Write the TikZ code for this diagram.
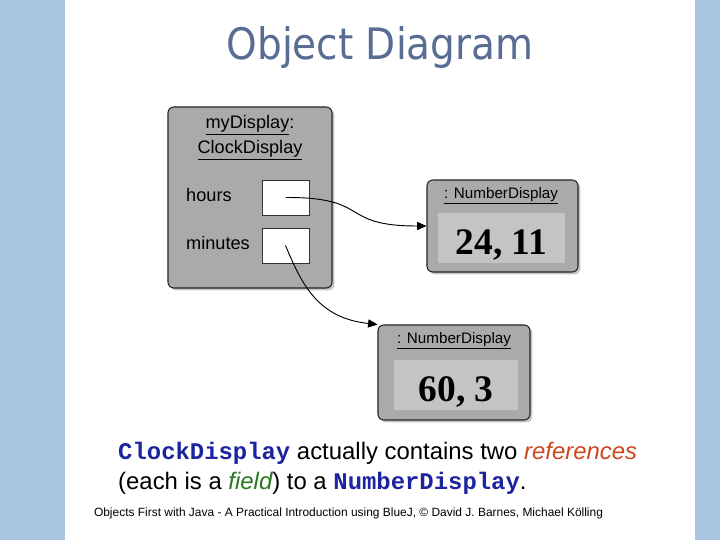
\documentclass[tikz,border=0pt]{standalone}
\usepackage{fontspec}
\setmainfont{Liberation Sans}
\setmonofont{Liberation Mono}
\newfontfamily\titlefont{DejaVu Sans Condensed}
\newfontfamily\valuefont{Liberation Serif}
\usetikzlibrary{shadows, arrows.meta}

\definecolor{bandblue}{RGB}{168,198,224}
\definecolor{titleblue}{RGB}{88,108,148}
\definecolor{objgray}{RGB}{170,170,170}
\definecolor{valgray}{RGB}{196,196,196}
\definecolor{codeblue}{RGB}{28,36,160}
\definecolor{refred}{RGB}{205,72,32}
\definecolor{fieldgreen}{RGB}{40,120,30}

\begin{document}
\begin{tikzpicture}[
    x=0.03cm, y=-0.03cm,
    object/.style={draw=black!85, line width=0.9pt, rounded corners=5pt, fill=objgray,
                   drop shadow={opacity=0.45, shadow xshift=2pt, shadow yshift=-2pt}},
    fieldbox/.style={draw=black!80, line width=0.6pt, fill=white,
                     minimum width=1.41cm, minimum height=1.05cm},
    valbox/.style={fill=valgray, minimum height=1.5cm, inner sep=0pt,
                   text height=28pt, text depth=0pt,
                   font=\valuefont\bfseries\fontsize{32}{36}\selectfont},
    lbl/.style={font=\fontsize{15.5}{18}\selectfont, inner sep=0pt},
    head/.style={font=\fontsize{13}{15}\selectfont, inner sep=0pt},
    ref/.style={-{Triangle[length=8pt, width=7pt]}, line width=0.8pt},
    body/.style={font=\fontsize{20.4}{28}\selectfont, inner sep=0pt, anchor=west},
  ]
    % slide background
    \fill[white] (0,0) rectangle (720,540);
    \fill[bandblue] (0,0) rectangle (65,540);
    \fill[bandblue] (695,0) rectangle (720,540);
    \useasboundingbox (0,0) rectangle (720,540);
    % title
    \node[text=titleblue, font=\titlefont\fontsize{37}{42}\selectfont] (title) at (380,48) {Object Diagram};
    % clock display object
    \node[object, minimum width=4.92cm, minimum height=5.43cm] (clock) at (250,197.5) {};
    \node[lbl] (clockname) at (250,125) {\underline{myDisplay}:};
    \node[lbl] (clockclass) at (250,150) {\underline{ClockDisplay}};
    \node[lbl, anchor=west] (hourslbl) at (186,195) {hours};
    \node[lbl, anchor=west] (minuteslbl) at (186,243) {minutes};
    \node[fieldbox] (hoursbox) at (285.5,197.5) {};
    \node[fieldbox] (minutesbox) at (285.5,245.5) {};
    % number display objects
    \node[object, minimum width=4.53cm, minimum height=2.76cm] (hoursnd) at (502.5,226) {};
    \node[head] (hourshead) at (501,196) {\underline{: NumberDisplay}};
    \node[valbox, minimum width=3.81cm] (hoursval) at (501.5,238) {24, 11};
    \node[object, minimum width=4.56cm, minimum height=2.85cm] (minutesnd) at (454,372.5) {};
    \node[head] (minuteshead) at (454,341) {\underline{: NumberDisplay}};
    \node[valbox, minimum width=3.72cm] (minutesval) at (456,385) {60, 3};
    % references
    \draw[ref] (hoursbox.center) .. controls (372,197) and (338,226) .. (hoursnd.west);
    \draw[ref] (minutesbox.center) .. controls (302,285) and (318,318) .. (minutesnd.north west);
    % caption
    \node[body] (line1) at (118,453) {\texttt{\bfseries\color{codeblue}ClockDisplay} actually contains two \textit{\color{refred}references}};
    \node[body] (line2) at (118,483) {(each is a \textit{\color{fieldgreen}field}) to a \texttt{\bfseries\color{codeblue}NumberDisplay}.};
    \node[font=\fontsize{10.2}{12}\selectfont, inner sep=0pt] (footer) at (348.5,513) {Objects First with Java - A Practical Introduction using BlueJ, © David J. Barnes, Michael Kölling};
\end{tikzpicture}
\end{document}
